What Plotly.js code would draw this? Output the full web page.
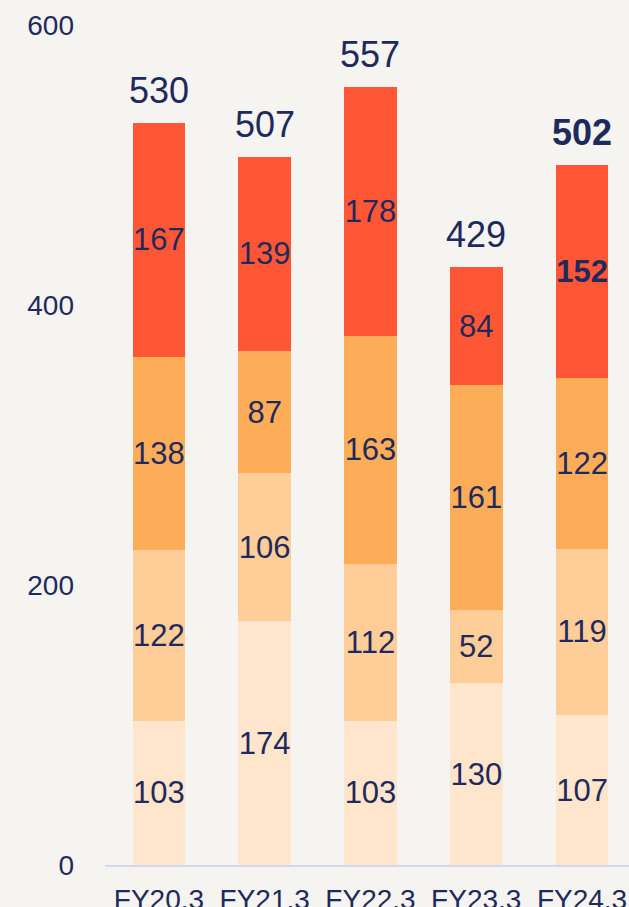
<!DOCTYPE html>
<html><head><meta charset="utf-8">
<script src="https://cdn.plot.ly/plotly-3.0.1.min.js"></script>
<style>html,body{margin:0;padding:0;background:#F5F4F0;overflow:hidden;}#chart{width:629px;height:907px;}</style>
</head><body><div id="chart"></div>
<script>
const categories = ['FY20.3','FY21.3','FY22.3','FY23.3','FY24.3'];
const seg1 = [103,174,103,130,107];
const seg2 = [122,106,112,52,119];
const seg3 = [138,87,163,161,122];
const seg4 = [167,139,178,84,152];
const totals = [530,507,557,429,502];
const highlightIndex = 4;
const yTickVals = [0,200,400,600];
const yTickText = ['0','200','400','600'];

const colors = ['#FEE5CB','#FECD98','#FDAD58','#FF5635'];
const NAVY = '#1F2A5C';
const FONT = 'Arial, "Liberation Sans", sans-serif';

const segments = [seg1, seg2, seg3, seg4];
const traces = segments.map((vals, si) => ({
  type: 'bar',
  x: categories,
  y: vals,
  text: vals.map((v, i) => (si === 3 && i === highlightIndex) ? '<b>' + v + '</b>' : String(v)),
  textposition: 'inside',
  insidetextanchor: 'middle',
  textangle: 0,
  constraintext: 'none',
  textfont: {family: FONT, size: 31, color: NAVY},
  insidetextfont: {family: FONT, size: 31, color: NAVY},
  marker: {color: colors[si], line: {width: 0}},
  hoverinfo: 'skip',
  showlegend: false
}));

const sums = categories.map((c, i) => segments.reduce((a, s) => a + s[i], 0));
const annotations = categories.map((c, i) => ({
  x: c, y: sums[i], xref: 'x', yref: 'y',
  text: i === highlightIndex ? '<b>' + totals[i] + '</b>' : String(totals[i]),
  showarrow: false, yanchor: 'bottom', xanchor: 'center', yshift: 10,
  font: {family: FONT, size: 36, color: NAVY}
}));

const layout = {
  width: 629, height: 907,
  paper_bgcolor: '#F5F4F0', plot_bgcolor: '#F5F4F0',
  margin: {l: 105, r: 0, t: 25, b: 42},
  barmode: 'stack', bargap: 0.5,
  showlegend: false,
  font: {family: FONT, color: NAVY},
  xaxis: {
    type: 'category', range: [-0.51, 4.444],
    showline: true, linecolor: '#D3DAF0', linewidth: 2,
    ticks: '', showgrid: false, zeroline: false,
    tickfont: {family: FONT, size: 28, color: NAVY},
    ticklabelstandoff: 8, fixedrange: true
  },
  yaxis: {
    range: [0, 600], tickvals: yTickVals, ticktext: yTickText,
    showline: false, showgrid: false, zeroline: false, ticks: '',
    tickfont: {family: FONT, size: 28, color: NAVY},
    ticklabelstandoff: 30, fixedrange: true
  },
  annotations: annotations
};

Plotly.newPlot('chart', traces, layout, {displayModeBar: false, staticPlot: true});
</script>
</body></html>
